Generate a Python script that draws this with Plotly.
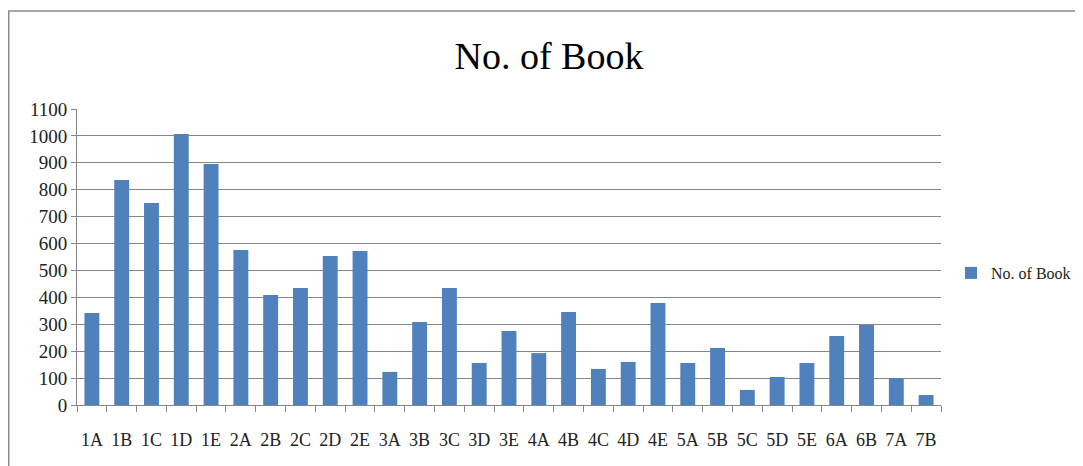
import plotly.graph_objects as go

classes = ["1A", "1B", "1C", "1D", "1E", "2A", "2B", "2C", "2D", "2E",
           "3A", "3B", "3C", "3D", "3E", "4A", "4B", "4C", "4D", "4E",
           "5A", "5B", "5C", "5D", "5E", "6A", "6B", "7A", "7B"]
books = [342, 836, 751, 1007, 896, 576, 409, 435, 554, 572,
         123, 308, 435, 156, 275, 193, 346, 134, 160, 379,
         156, 212, 56, 104, 156, 256, 297, 100, 37]
series_name = "No. of Book"
y_ticks = list(range(0, 1101, 100))

FONT = "Liberation Serif"
W, H = 1075, 458
L, R, T, B = 69, 142, 101, 61
PW, PH = W - L - R, H - T - B

fig = go.Figure()
fig.add_trace(go.Bar(
    x=classes, y=books, name=series_name,
    marker=dict(color="#4F81BD", line=dict(width=0)),
    showlegend=True,
))

fig.update_layout(
    width=W, height=H,
    margin=dict(l=L, r=R, t=T, b=B, autoexpand=False),
    paper_bgcolor="white", plot_bgcolor="white",
    font=dict(family=FONT, color="#222222", size=18),
    title=dict(text="No. of Book", x=541 / W, xref="container", xanchor="center",
               y=1 - 48 / H, yref="container", yanchor="middle",
               font=dict(family=FONT, size=38, color="#000000")),
    bargap=0.5,
    showlegend=True,
    legend=dict(x=(943 - L) / PW, xanchor="left", y=0.446, yanchor="middle",
                font=dict(family=FONT, size=16, color="#222222"),
                bgcolor="rgba(0,0,0,0)", itemwidth=30, borderwidth=0),
    xaxis=dict(
        type="category", tickson="boundaries", ticks="outside", ticklen=6,
        tickcolor="#868686", showline=True, linecolor="#868686", linewidth=1,
        showgrid=False, ticklabelstandoff=18, tickangle=0, automargin=False,
        tickfont=dict(family=FONT, size=18, color="#222222"),
    ),
    yaxis=dict(
        range=[0, 1100], tickvals=y_ticks, ticks="outside", ticklen=5,
        tickcolor="#868686", showline=True, linecolor="#868686", linewidth=1,
        showgrid=True, gridcolor="#878787", gridwidth=1, zeroline=False,
        automargin=False,
        tickfont=dict(family=FONT, size=19, color="#222222"),
    ),
    shapes=[dict(type="rect", xref="paper", yref="paper",
                 x0=(0.75 - L) / PW, x1=1.5, y0=-0.5, y1=(H - B - 3) / PH,
                 line=dict(color="#8c8c8c", width=1.5), fillcolor="rgba(0,0,0,0)",
                 layer="below")],
)

fig.write_html("out.html")
